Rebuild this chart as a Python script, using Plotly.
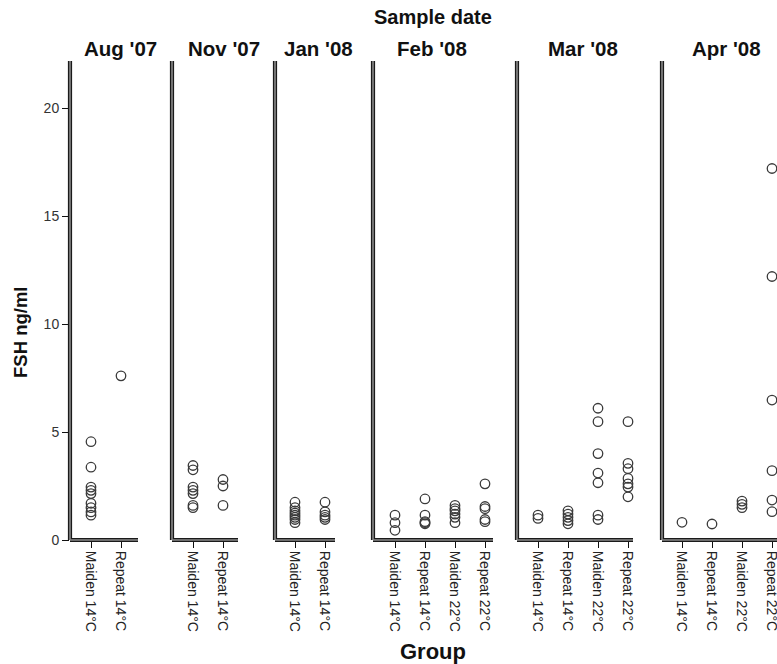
import plotly.graph_objects as go

# ---- data: FSH (ng/ml) per sample date and group ----
dates = ["Aug '07", "Nov '07", "Jan '08", "Feb '08", "Mar '08", "Apr '08"]
groups_two = ["Maiden 14°C", "Repeat 14°C"]
groups_four = ["Maiden 14°C", "Repeat 14°C", "Maiden 22°C", "Repeat 22°C"]
y_ticks = [0, 5, 10, 15, 20]

aug_maiden14 = [4.55, 3.37, 2.45, 2.3, 2.15, 1.7, 1.5, 1.3, 1.15]
aug_repeat14 = [7.6]

nov_maiden14 = [3.45, 3.25, 2.45, 2.3, 2.15, 1.6, 1.5]
nov_repeat14 = [2.8, 2.5, 1.6]

jan_maiden14 = [1.75, 1.5, 1.35, 1.25, 1.15, 1.05, 0.95, 0.8]
jan_repeat14 = [1.75, 1.3, 1.15, 1.05, 0.95]

feb_maiden14 = [1.15, 0.8, 0.45]
feb_repeat14 = [1.9, 1.15, 0.85, 0.8, 0.75]
feb_maiden22 = [1.6, 1.45, 1.35, 1.2, 1.05, 0.8]
feb_repeat22 = [2.6, 1.55, 1.45, 0.95, 0.85]

mar_maiden14 = [1.15, 1.0]
mar_repeat14 = [1.35, 1.2, 1.05, 0.9, 0.75]
mar_maiden22 = [6.1, 5.48, 4.0, 3.1, 2.65, 1.15, 0.95]
mar_repeat22 = [5.48, 3.55, 3.3, 2.85, 2.6, 2.45, 2.0]

apr_maiden14 = [0.82]
apr_repeat14 = [0.74]
apr_maiden22 = [1.8, 1.65, 1.5]
apr_repeat22 = [17.2, 12.2, 6.48, 3.21, 1.85, 1.31]

panels = [
    (groups_two, [aug_maiden14, aug_repeat14]),
    (groups_two, [nov_maiden14, nov_repeat14]),
    (groups_two, [jan_maiden14, jan_repeat14]),
    (groups_four, [feb_maiden14, feb_repeat14, feb_maiden22, feb_repeat22]),
    (groups_four, [mar_maiden14, mar_repeat14, mar_maiden22, mar_repeat22]),
    (groups_four, [apr_maiden14, apr_repeat14, apr_maiden22, apr_repeat22]),
]

# ---- page geometry (pixels) ----
W, H = 777, 664
FONT = "Liberation Sans, Arial, sans-serif"
plot_top, plot_bottom = 61, 540
pitch = 30.0                       # pixels per category slot
# (left edge, right edge, offset of first category from left edge)
panel_px = [(70, 138, 21), (172, 238, 21), (275, 335, 20),
            (373, 493, 22), (517, 633, 21), (662, 777, 20)]
title_px = [120, 224, 318, 432, 583, 726]
y_max = (plot_bottom - plot_top) / 21.6

y_dom = [(H - plot_bottom) / H, (H - plot_top) / H]

fig = go.Figure()
layout = {}
shapes = []
annotations = []

for i, ((cats, series), (left, right, off)) in enumerate(zip(panels, panel_px)):
    n = i + 1
    xa = "x" if n == 1 else f"x{n}"
    ya = "y" if n == 1 else f"y{n}"
    for cat, vals in zip(cats, series):
        fig.add_trace(go.Scatter(
            x=[cat] * len(vals), y=vals, mode="markers",
            xaxis=xa, yaxis=ya, showlegend=False, cliponaxis=False,
            marker=dict(symbol="circle-open", size=9.5, color="#3a3a3a",
                        line=dict(width=1.3)),
        ))
    lo = -off / pitch
    hi = lo + (right - left) / pitch
    layout["xaxis" if n == 1 else f"xaxis{n}"] = dict(
        domain=[left / W, right / W], anchor=ya, type="category",
        categoryorder="array", categoryarray=cats, range=[lo, hi],
        automargin=False,
        showline=False, showgrid=False, zeroline=False,
        ticks="outside", ticklen=7, tickwidth=1.2, tickcolor="#111",
        tickangle=90, tickfont=dict(family=FONT, size=14, color="#222"),
    )
    layout["yaxis" if n == 1 else f"yaxis{n}"] = dict(
        domain=y_dom, anchor=xa, range=[0, y_max], automargin=False,
        showline=False, showgrid=False, zeroline=False,
        tickvals=y_ticks, ticks="outside" if n == 1 else "",
        ticklen=7, tickwidth=1.2, tickcolor="#111",
        showticklabels=(n == 1),
        tickfont=dict(family=FONT, size=14, color="#333"),
    )
    # double-rule axis lines: dark outer stroke with a grey core
    for color, width in (("#1a1a1a", 4.2), ("#8a8a8a", 1.6)):
        shapes.append(dict(type="line", xref=f"{xa} domain", yref=f"{ya} domain",
                           x0=0, x1=0, y0=0, y1=1, layer="above",
                           line=dict(color=color, width=width)))
        shapes.append(dict(type="line", xref=f"{xa} domain", yref=f"{ya} domain",
                           x0=0, x1=1, y0=0, y1=0, layer="above",
                           line=dict(color=color, width=width)))
    annotations.append(dict(
        text=f"<b>{dates[i]}</b>", xref="paper", yref="paper",
        x=title_px[i] / W, y=(H - 48) / H, showarrow=False,
        xanchor="center", yanchor="middle",
        font=dict(family=FONT, size=20.5, color="#111"),
    ))

annotations += [
    dict(text="<b>Sample date</b>", xref="paper", yref="paper",
         x=433 / W, y=(H - 17) / H, showarrow=False, xanchor="center",
         yanchor="middle", font=dict(family=FONT, size=20, color="#111")),
    dict(text="<b>Group</b>", xref="paper", yref="paper",
         x=433 / W, y=(H - 651) / H, showarrow=False, xanchor="center",
         yanchor="middle", font=dict(family=FONT, size=22, color="#111")),
    dict(text="<b>FSH ng/ml</b>", xref="paper", yref="paper",
         x=20 / W, y=(H - 333) / H, showarrow=False, textangle=-90,
         xanchor="center", yanchor="middle",
         font=dict(family=FONT, size=18.5, color="#111")),
]

fig.update_layout(
    width=W, height=H, autosize=False,
    margin=dict(l=0, r=0, t=0, b=0),
    paper_bgcolor="white", plot_bgcolor="white",
    shapes=shapes, annotations=annotations, **layout,
)

fig.write_html("out.html")
